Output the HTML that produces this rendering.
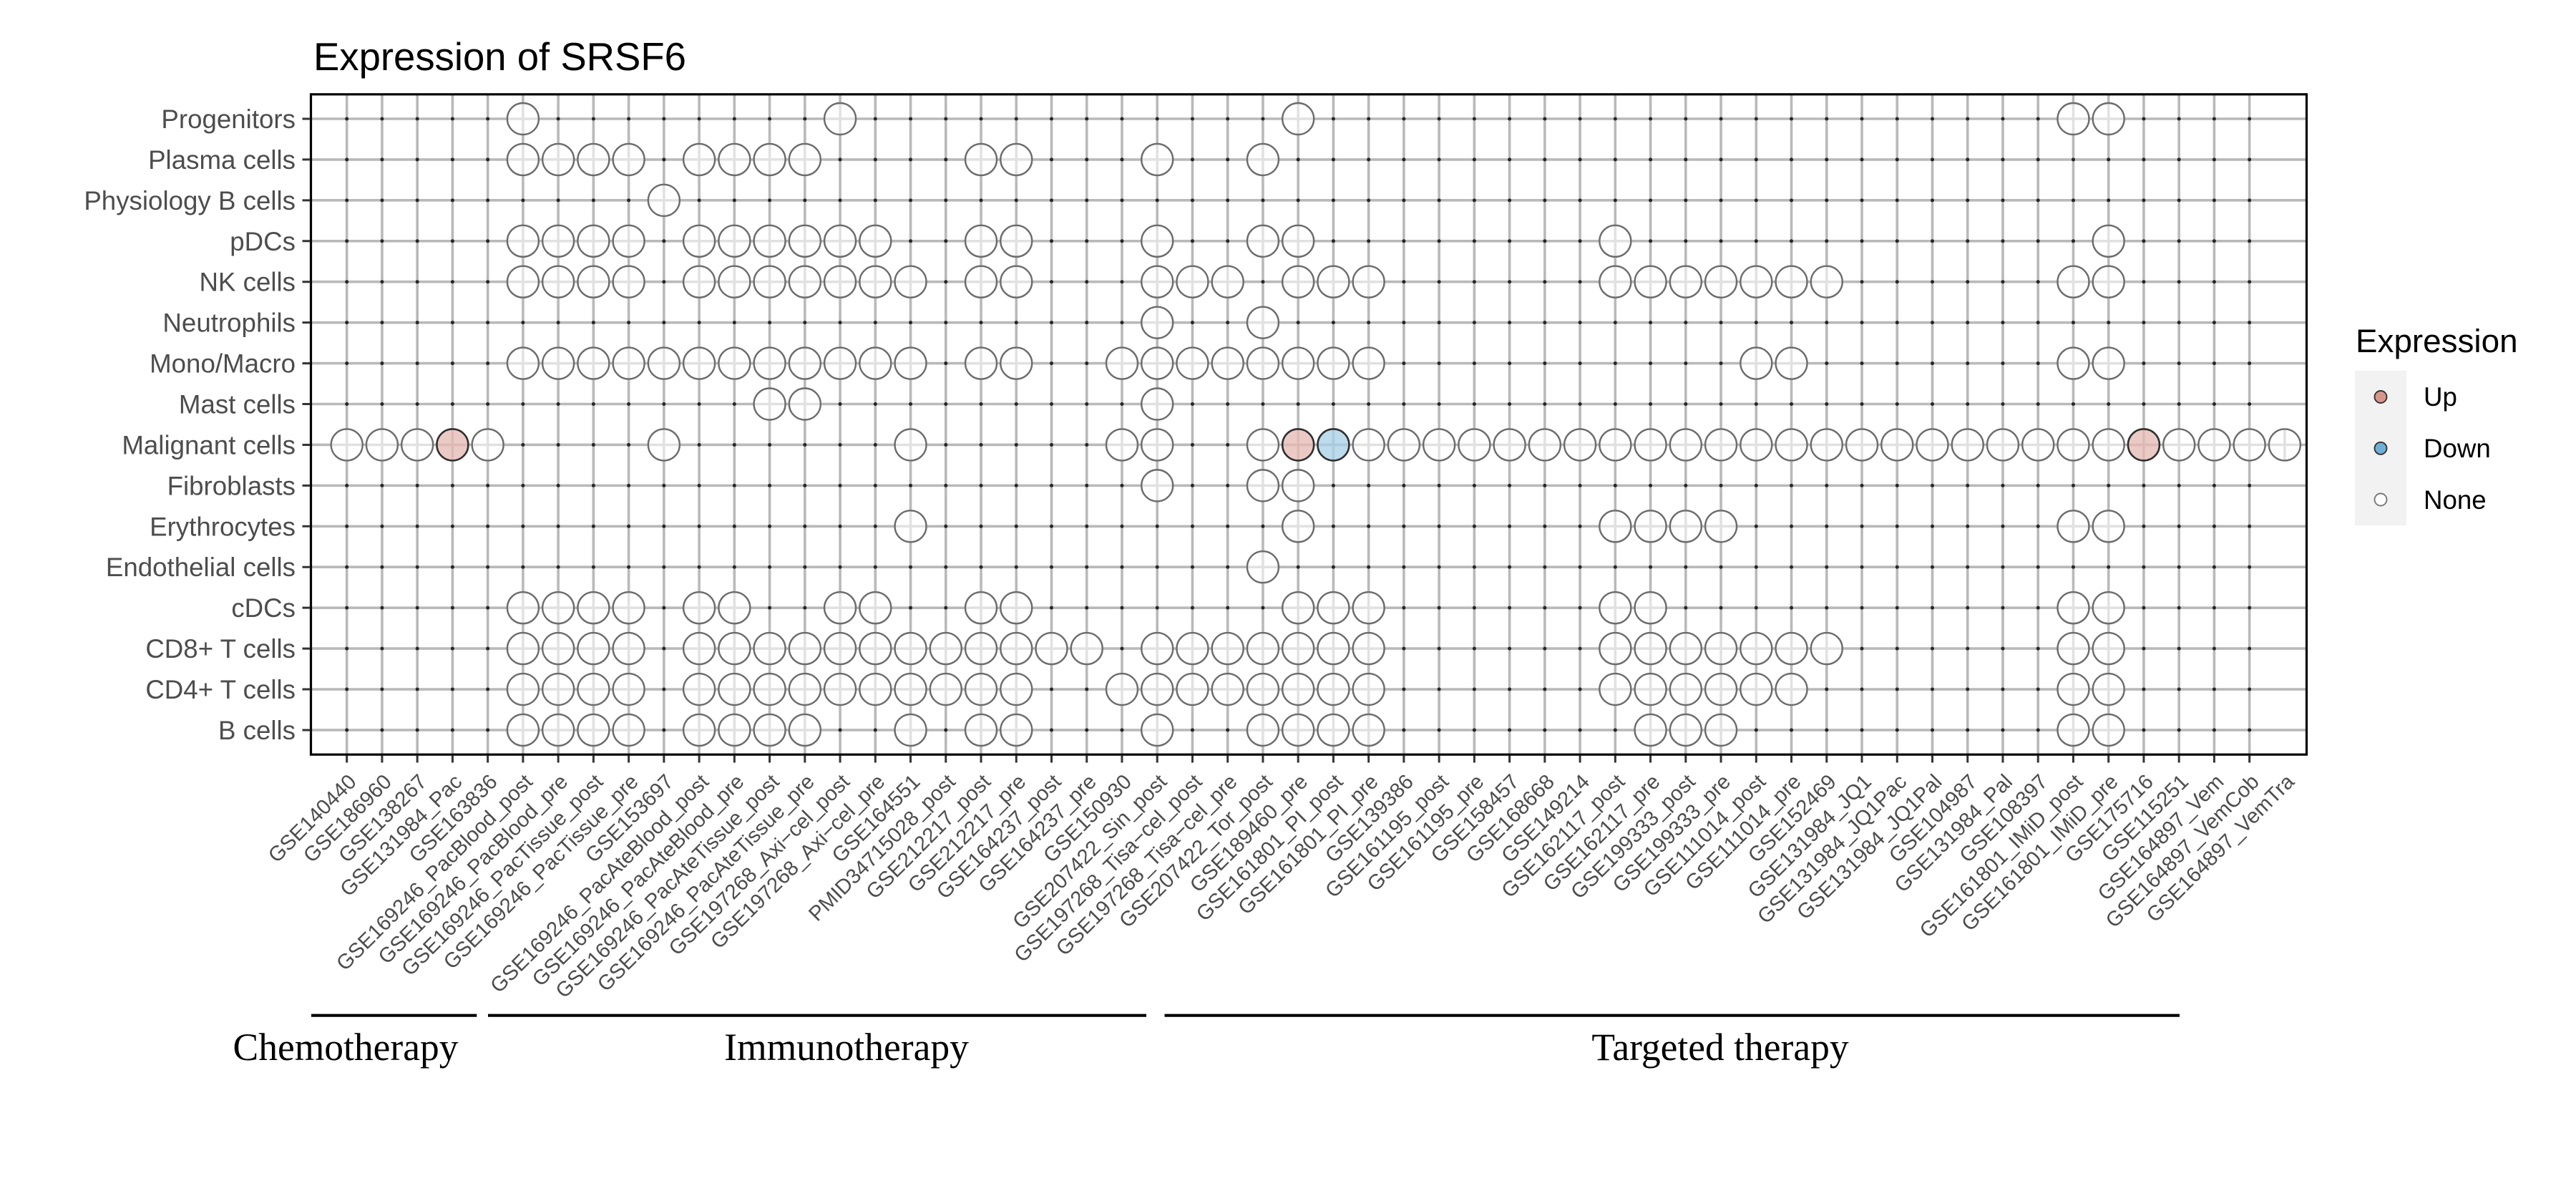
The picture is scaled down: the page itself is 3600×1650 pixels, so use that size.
<!DOCTYPE html>
<html>
<head>
<meta charset="utf-8">
<style>
html,body{margin:0;padding:0;background:#fff;}
svg{display:block;}
.sans{font-family:"Liberation Sans",Arial,sans-serif;}
.serif{font-family:"Liberation Serif","Times New Roman",serif;}
</style>
</head>
<body>
<svg width="3600" height="1650" viewBox="0 0 3600 1650" xmlns="http://www.w3.org/2000/svg">
<defs>
  <g id="n">
    <circle r="22" fill="#ffffff"/>
    <path d="M-22,0H22M0,-22V22" stroke="#e1e1e1" stroke-width="3.5"/>
    <circle r="22" fill="none" stroke="#6c6c6c" stroke-width="2.4"/>
  </g>
  <g id="u">
    <circle r="22" fill="#ebcac6"/>
    <path d="M-22,0H22M0,-22V22" stroke="#dcb9b5" stroke-width="3.5"/>
    <circle r="22" fill="none" stroke="#2f2f2f" stroke-width="2.6"/>
  </g>
  <g id="d">
    <circle r="22" fill="#bcdbec"/>
    <path d="M-22,0H22M0,-22V22" stroke="#abcadb" stroke-width="3.5"/>
    <circle r="22" fill="none" stroke="#2f2f2f" stroke-width="2.6"/>
  </g>
</defs>

<rect x="0" y="0" width="3600" height="1650" fill="#ffffff"/>

<!-- Title -->
<text class="sans" x="438" y="98" font-size="54.5" fill="#000">Expression of SRSF6</text>

<!-- Grid: vertical -->
<path fill="none" stroke="#b9b9b9" stroke-width="3.6" d="M484.7,132v922m49.24,-922v922m49.24,-922v922m49.24,-922v922m49.24,-922v922m49.24,-922v922m49.24,-922v922m49.24,-922v922m49.24,-922v922m49.24,-922v922m49.24,-922v922m49.24,-922v922m49.24,-922v922m49.24,-922v922m49.24,-922v922m49.24,-922v922m49.24,-922v922m49.24,-922v922m49.24,-922v922m49.24,-922v922m49.24,-922v922m49.24,-922v922m49.24,-922v922m49.24,-922v922m49.24,-922v922m49.24,-922v922m49.24,-922v922m49.24,-922v922m49.24,-922v922m49.24,-922v922m49.24,-922v922m49.24,-922v922m49.24,-922v922m49.24,-922v922m49.24,-922v922m49.24,-922v922m49.24,-922v922m49.24,-922v922m49.24,-922v922m49.24,-922v922m49.24,-922v922m49.24,-922v922m49.24,-922v922m49.24,-922v922m49.24,-922v922m49.24,-922v922m49.24,-922v922m49.24,-922v922m49.24,-922v922m49.24,-922v922m49.24,-922v922m49.24,-922v922m49.24,-922v922m49.24,-922v922m49.24,-922v922"/>
<!-- Grid: horizontal -->
<path fill="none" stroke="#b9b9b9" stroke-width="3.6" d="M435,166h2788m-2788,56.93h2788m-2788,56.93h2788m-2788,56.93h2788m-2788,56.93h2788m-2788,56.93h2788m-2788,56.93h2788m-2788,56.93h2788m-2788,56.93h2788m-2788,56.93h2788m-2788,56.93h2788m-2788,56.93h2788m-2788,56.93h2788m-2788,56.93h2788m-2788,56.93h2788m-2788,56.93h2788"/>
<!-- Dots -->
<path fill="none" stroke="#262626" stroke-width="5" stroke-linecap="round" stroke-dasharray="0.01 56.92" d="M484.7,166v854m49.24,-854v854m49.24,-854v854m49.24,-854v854m49.24,-854v854m49.24,-854v854m49.24,-854v854m49.24,-854v854m49.24,-854v854m49.24,-854v854m49.24,-854v854m49.24,-854v854m49.24,-854v854m49.24,-854v854m49.24,-854v854m49.24,-854v854m49.24,-854v854m49.24,-854v854m49.24,-854v854m49.24,-854v854m49.24,-854v854m49.24,-854v854m49.24,-854v854m49.24,-854v854m49.24,-854v854m49.24,-854v854m49.24,-854v854m49.24,-854v854m49.24,-854v854m49.24,-854v854m49.24,-854v854m49.24,-854v854m49.24,-854v854m49.24,-854v854m49.24,-854v854m49.24,-854v854m49.24,-854v854m49.24,-854v854m49.24,-854v854m49.24,-854v854m49.24,-854v854m49.24,-854v854m49.24,-854v854m49.24,-854v854m49.24,-854v854m49.24,-854v854m49.24,-854v854m49.24,-854v854m49.24,-854v854m49.24,-854v854m49.24,-854v854m49.24,-854v854m49.24,-854v854m49.24,-854v854m49.24,-854v854"/>

<!-- Circles -->
<g transform="translate(484.7,166)">
<use href="#n" x="246.2"/><use href="#n" x="689.36"/><use href="#n" x="1329.48"/><use href="#n" x="2412.76"/><use href="#n" x="2462"/>
</g>
<g transform="translate(484.7,222.93)">
<use href="#n" x="246.2"/><use href="#n" x="295.44"/><use href="#n" x="344.68"/><use href="#n" x="393.92"/>
<use href="#n" x="492.4"/><use href="#n" x="541.64"/><use href="#n" x="590.88"/><use href="#n" x="640.12"/>
<use href="#n" x="886.32"/><use href="#n" x="935.56"/><use href="#n" x="1132.52"/><use href="#n" x="1280.24"/>
</g>
<g transform="translate(484.7,279.86)">
<use href="#n" x="443.16"/>
</g>
<g transform="translate(484.7,336.79)">
<use href="#n" x="246.2"/><use href="#n" x="295.44"/><use href="#n" x="344.68"/><use href="#n" x="393.92"/>
<use href="#n" x="492.4"/><use href="#n" x="541.64"/><use href="#n" x="590.88"/><use href="#n" x="640.12"/><use href="#n" x="689.36"/><use href="#n" x="738.6"/>
<use href="#n" x="886.32"/><use href="#n" x="935.56"/><use href="#n" x="1132.52"/><use href="#n" x="1280.24"/><use href="#n" x="1329.48"/>
<use href="#n" x="1772.64"/><use href="#n" x="2462"/>
</g>
<g transform="translate(484.7,393.72)">
<use href="#n" x="246.2"/><use href="#n" x="295.44"/><use href="#n" x="344.68"/><use href="#n" x="393.92"/>
<use href="#n" x="492.4"/><use href="#n" x="541.64"/><use href="#n" x="590.88"/><use href="#n" x="640.12"/><use href="#n" x="689.36"/><use href="#n" x="738.6"/><use href="#n" x="787.84"/>
<use href="#n" x="886.32"/><use href="#n" x="935.56"/>
<use href="#n" x="1132.52"/><use href="#n" x="1181.76"/><use href="#n" x="1231"/>
<use href="#n" x="1329.48"/><use href="#n" x="1378.72"/><use href="#n" x="1427.96"/>
<use href="#n" x="1772.64"/><use href="#n" x="1821.88"/><use href="#n" x="1871.12"/><use href="#n" x="1920.36"/><use href="#n" x="1969.6"/><use href="#n" x="2018.84"/><use href="#n" x="2068.08"/>
<use href="#n" x="2412.76"/><use href="#n" x="2462"/>
</g>
<g transform="translate(484.7,450.65)">
<use href="#n" x="1132.52"/><use href="#n" x="1280.24"/>
</g>
<g transform="translate(484.7,507.58)">
<use href="#n" x="246.2"/><use href="#n" x="295.44"/><use href="#n" x="344.68"/><use href="#n" x="393.92"/><use href="#n" x="443.16"/><use href="#n" x="492.4"/><use href="#n" x="541.64"/><use href="#n" x="590.88"/><use href="#n" x="640.12"/><use href="#n" x="689.36"/><use href="#n" x="738.6"/><use href="#n" x="787.84"/>
<use href="#n" x="886.32"/><use href="#n" x="935.56"/>
<use href="#n" x="1083.28"/><use href="#n" x="1132.52"/><use href="#n" x="1181.76"/><use href="#n" x="1231"/><use href="#n" x="1280.24"/><use href="#n" x="1329.48"/><use href="#n" x="1378.72"/><use href="#n" x="1427.96"/>
<use href="#n" x="1969.6"/><use href="#n" x="2018.84"/>
<use href="#n" x="2412.76"/><use href="#n" x="2462"/>
</g>
<g transform="translate(484.7,564.51)">
<use href="#n" x="590.88"/><use href="#n" x="640.12"/><use href="#n" x="1132.52"/>
</g>
<g transform="translate(484.7,621.44)">
<use href="#n" x="0"/><use href="#n" x="49.24"/><use href="#n" x="98.48"/><use href="#u" x="147.72"/><use href="#n" x="196.96"/>
<use href="#n" x="443.16"/><use href="#n" x="787.84"/>
<use href="#n" x="1083.28"/><use href="#n" x="1132.52"/><use href="#n" x="1280.24"/><use href="#u" x="1329.48"/><use href="#d" x="1378.72"/>
<use href="#n" x="1427.96"/><use href="#n" x="1477.2"/><use href="#n" x="1526.44"/><use href="#n" x="1575.68"/><use href="#n" x="1624.92"/><use href="#n" x="1674.16"/><use href="#n" x="1723.4"/><use href="#n" x="1772.64"/><use href="#n" x="1821.88"/><use href="#n" x="1871.12"/><use href="#n" x="1920.36"/><use href="#n" x="1969.6"/><use href="#n" x="2018.84"/><use href="#n" x="2068.08"/><use href="#n" x="2117.32"/><use href="#n" x="2166.56"/><use href="#n" x="2215.8"/><use href="#n" x="2265.04"/><use href="#n" x="2314.28"/><use href="#n" x="2363.52"/><use href="#n" x="2412.76"/><use href="#n" x="2462"/>
<use href="#u" x="2511.24"/>
<use href="#n" x="2560.48"/><use href="#n" x="2609.72"/><use href="#n" x="2658.96"/><use href="#n" x="2708.2"/>
</g>
<g transform="translate(484.7,678.37)">
<use href="#n" x="1132.52"/><use href="#n" x="1280.24"/><use href="#n" x="1329.48"/>
</g>
<g transform="translate(484.7,735.3)">
<use href="#n" x="787.84"/><use href="#n" x="1329.48"/>
<use href="#n" x="1772.64"/><use href="#n" x="1821.88"/><use href="#n" x="1871.12"/><use href="#n" x="1920.36"/>
<use href="#n" x="2412.76"/><use href="#n" x="2462"/>
</g>
<g transform="translate(484.7,792.23)">
<use href="#n" x="1280.24"/>
</g>
<g transform="translate(484.7,849.16)">
<use href="#n" x="246.2"/><use href="#n" x="295.44"/><use href="#n" x="344.68"/><use href="#n" x="393.92"/>
<use href="#n" x="492.4"/><use href="#n" x="541.64"/><use href="#n" x="689.36"/><use href="#n" x="738.6"/>
<use href="#n" x="886.32"/><use href="#n" x="935.56"/>
<use href="#n" x="1329.48"/><use href="#n" x="1378.72"/><use href="#n" x="1427.96"/>
<use href="#n" x="1772.64"/><use href="#n" x="1821.88"/>
<use href="#n" x="2412.76"/><use href="#n" x="2462"/>
</g>
<g transform="translate(484.7,906.09)">
<use href="#n" x="246.2"/><use href="#n" x="295.44"/><use href="#n" x="344.68"/><use href="#n" x="393.92"/>
<use href="#n" x="492.4"/><use href="#n" x="541.64"/><use href="#n" x="590.88"/><use href="#n" x="640.12"/><use href="#n" x="689.36"/><use href="#n" x="738.6"/><use href="#n" x="787.84"/><use href="#n" x="837.08"/><use href="#n" x="886.32"/><use href="#n" x="935.56"/><use href="#n" x="984.8"/><use href="#n" x="1034.04"/>
<use href="#n" x="1132.52"/><use href="#n" x="1181.76"/><use href="#n" x="1231"/><use href="#n" x="1280.24"/><use href="#n" x="1329.48"/><use href="#n" x="1378.72"/><use href="#n" x="1427.96"/>
<use href="#n" x="1772.64"/><use href="#n" x="1821.88"/><use href="#n" x="1871.12"/><use href="#n" x="1920.36"/><use href="#n" x="1969.6"/><use href="#n" x="2018.84"/><use href="#n" x="2068.08"/>
<use href="#n" x="2412.76"/><use href="#n" x="2462"/>
</g>
<g transform="translate(484.7,963.02)">
<use href="#n" x="246.2"/><use href="#n" x="295.44"/><use href="#n" x="344.68"/><use href="#n" x="393.92"/>
<use href="#n" x="492.4"/><use href="#n" x="541.64"/><use href="#n" x="590.88"/><use href="#n" x="640.12"/><use href="#n" x="689.36"/><use href="#n" x="738.6"/><use href="#n" x="787.84"/><use href="#n" x="837.08"/><use href="#n" x="886.32"/><use href="#n" x="935.56"/>
<use href="#n" x="1083.28"/><use href="#n" x="1132.52"/><use href="#n" x="1181.76"/><use href="#n" x="1231"/><use href="#n" x="1280.24"/><use href="#n" x="1329.48"/><use href="#n" x="1378.72"/><use href="#n" x="1427.96"/>
<use href="#n" x="1772.64"/><use href="#n" x="1821.88"/><use href="#n" x="1871.12"/><use href="#n" x="1920.36"/><use href="#n" x="1969.6"/><use href="#n" x="2018.84"/>
<use href="#n" x="2412.76"/><use href="#n" x="2462"/>
</g>
<g transform="translate(484.7,1019.95)">
<use href="#n" x="246.2"/><use href="#n" x="295.44"/><use href="#n" x="344.68"/><use href="#n" x="393.92"/>
<use href="#n" x="492.4"/><use href="#n" x="541.64"/><use href="#n" x="590.88"/><use href="#n" x="640.12"/>
<use href="#n" x="787.84"/><use href="#n" x="886.32"/><use href="#n" x="935.56"/>
<use href="#n" x="1132.52"/><use href="#n" x="1280.24"/><use href="#n" x="1329.48"/><use href="#n" x="1378.72"/><use href="#n" x="1427.96"/>
<use href="#n" x="1821.88"/><use href="#n" x="1871.12"/><use href="#n" x="1920.36"/>
<use href="#n" x="2412.76"/><use href="#n" x="2462"/>
</g>

<!-- Panel border -->
<rect x="434.5" y="131.8" width="2789" height="922.4" fill="none" stroke="#000" stroke-width="3.2"/>

<!-- Ticks -->
<path fill="none" stroke="#333" stroke-width="3" d="M484.7,1055.5v10m49.24,-10v10m49.24,-10v10m49.24,-10v10m49.24,-10v10m49.24,-10v10m49.24,-10v10m49.24,-10v10m49.24,-10v10m49.24,-10v10m49.24,-10v10m49.24,-10v10m49.24,-10v10m49.24,-10v10m49.24,-10v10m49.24,-10v10m49.24,-10v10m49.24,-10v10m49.24,-10v10m49.24,-10v10m49.24,-10v10m49.24,-10v10m49.24,-10v10m49.24,-10v10m49.24,-10v10m49.24,-10v10m49.24,-10v10m49.24,-10v10m49.24,-10v10m49.24,-10v10m49.24,-10v10m49.24,-10v10m49.24,-10v10m49.24,-10v10m49.24,-10v10m49.24,-10v10m49.24,-10v10m49.24,-10v10m49.24,-10v10m49.24,-10v10m49.24,-10v10m49.24,-10v10m49.24,-10v10m49.24,-10v10m49.24,-10v10m49.24,-10v10m49.24,-10v10m49.24,-10v10m49.24,-10v10m49.24,-10v10m49.24,-10v10m49.24,-10v10m49.24,-10v10m49.24,-10v10m49.24,-10v10"/>
<path fill="none" stroke="#333" stroke-width="3" d="M422.5,166h11m-11,56.93h11m-11,56.93h11m-11,56.93h11m-11,56.93h11m-11,56.93h11m-11,56.93h11m-11,56.93h11m-11,56.93h11m-11,56.93h11m-11,56.93h11m-11,56.93h11m-11,56.93h11m-11,56.93h11m-11,56.93h11m-11,56.93h11"/>

<!-- Y labels -->
<g class="sans" font-size="36.7" fill="#4d4d4d" text-anchor="end">
<text x="413" y="179">Progenitors</text>
<text x="413" y="235.93">Plasma cells</text>
<text x="413" y="292.86">Physiology B cells</text>
<text x="413" y="349.79">pDCs</text>
<text x="413" y="406.72">NK cells</text>
<text x="413" y="463.65">Neutrophils</text>
<text x="413" y="520.58">Mono/Macro</text>
<text x="413" y="577.51">Mast cells</text>
<text x="413" y="634.44">Malignant cells</text>
<text x="413" y="691.37">Fibroblasts</text>
<text x="413" y="748.3">Erythrocytes</text>
<text x="413" y="805.23">Endothelial cells</text>
<text x="413" y="862.16">cDCs</text>
<text x="413" y="919.09">CD8+ T cells</text>
<text x="413" y="976.02">CD4+ T cells</text>
<text x="413" y="1032.95">B cells</text>
</g>

<!-- X labels -->
<g class="sans" font-size="29.3" fill="#4d4d4d" text-anchor="end" transform="translate(499.7,1094)">
<text transform="translate(0,0) rotate(-45)">GSE140440</text>
<text transform="translate(49.24,0) rotate(-45)">GSE186960</text>
<text transform="translate(98.48,0) rotate(-45)">GSE138267</text>
<text transform="translate(147.72,0) rotate(-45)">GSE131984_Pac</text>
<text transform="translate(196.96,0) rotate(-45)">GSE163836</text>
<text transform="translate(246.2,0) rotate(-45)">GSE169246_PacBlood_post</text>
<text transform="translate(295.44,0) rotate(-45)">GSE169246_PacBlood_pre</text>
<text transform="translate(344.68,0) rotate(-45)">GSE169246_PacTissue_post</text>
<text transform="translate(393.92,0) rotate(-45)">GSE169246_PacTissue_pre</text>
<text transform="translate(443.16,0) rotate(-45)">GSE153697</text>
<text transform="translate(492.4,0) rotate(-45)">GSE169246_PacAteBlood_post</text>
<text transform="translate(541.64,0) rotate(-45)">GSE169246_PacAteBlood_pre</text>
<text transform="translate(590.88,0) rotate(-45)">GSE169246_PacAteTissue_post</text>
<text transform="translate(640.12,0) rotate(-45)">GSE169246_PacAteTissue_pre</text>
<text transform="translate(689.36,0) rotate(-45)">GSE197268_Axi−cel_post</text>
<text transform="translate(738.6,0) rotate(-45)">GSE197268_Axi−cel_pre</text>
<text transform="translate(787.84,0) rotate(-45)">GSE164551</text>
<text transform="translate(837.08,0) rotate(-45)">PMID34715028_post</text>
<text transform="translate(886.32,0) rotate(-45)">GSE212217_post</text>
<text transform="translate(935.56,0) rotate(-45)">GSE212217_pre</text>
<text transform="translate(984.8,0) rotate(-45)">GSE164237_post</text>
<text transform="translate(1034.04,0) rotate(-45)">GSE164237_pre</text>
<text transform="translate(1083.28,0) rotate(-45)">GSE150930</text>
<text transform="translate(1132.52,0) rotate(-45)">GSE207422_Sin_post</text>
<text transform="translate(1181.76,0) rotate(-45)">GSE197268_Tisa−cel_post</text>
<text transform="translate(1231,0) rotate(-45)">GSE197268_Tisa−cel_pre</text>
<text transform="translate(1280.24,0) rotate(-45)">GSE207422_Tor_post</text>
<text transform="translate(1329.48,0) rotate(-45)">GSE189460_pre</text>
<text transform="translate(1378.72,0) rotate(-45)">GSE161801_PI_post</text>
<text transform="translate(1427.96,0) rotate(-45)">GSE161801_PI_pre</text>
<text transform="translate(1477.2,0) rotate(-45)">GSE139386</text>
<text transform="translate(1526.44,0) rotate(-45)">GSE161195_post</text>
<text transform="translate(1575.68,0) rotate(-45)">GSE161195_pre</text>
<text transform="translate(1624.92,0) rotate(-45)">GSE158457</text>
<text transform="translate(1674.16,0) rotate(-45)">GSE168668</text>
<text transform="translate(1723.4,0) rotate(-45)">GSE149214</text>
<text transform="translate(1772.64,0) rotate(-45)">GSE162117_post</text>
<text transform="translate(1821.88,0) rotate(-45)">GSE162117_pre</text>
<text transform="translate(1871.12,0) rotate(-45)">GSE199333_post</text>
<text transform="translate(1920.36,0) rotate(-45)">GSE199333_pre</text>
<text transform="translate(1969.6,0) rotate(-45)">GSE111014_post</text>
<text transform="translate(2018.84,0) rotate(-45)">GSE111014_pre</text>
<text transform="translate(2068.08,0) rotate(-45)">GSE152469</text>
<text transform="translate(2117.32,0) rotate(-45)">GSE131984_JQ1</text>
<text transform="translate(2166.56,0) rotate(-45)">GSE131984_JQ1Pac</text>
<text transform="translate(2215.8,0) rotate(-45)">GSE131984_JQ1Pal</text>
<text transform="translate(2265.04,0) rotate(-45)">GSE104987</text>
<text transform="translate(2314.28,0) rotate(-45)">GSE131984_Pal</text>
<text transform="translate(2363.52,0) rotate(-45)">GSE108397</text>
<text transform="translate(2412.76,0) rotate(-45)">GSE161801_IMiD_post</text>
<text transform="translate(2462,0) rotate(-45)">GSE161801_IMiD_pre</text>
<text transform="translate(2511.24,0) rotate(-45)">GSE175716</text>
<text transform="translate(2560.48,0) rotate(-45)">GSE115251</text>
<text transform="translate(2609.72,0) rotate(-45)">GSE164897_Vem</text>
<text transform="translate(2658.96,0) rotate(-45)">GSE164897_VemCob</text>
<text transform="translate(2708.2,0) rotate(-45)">GSE164897_VemTra</text>
</g>

<!-- Group annotation -->
<g stroke="#000" stroke-width="4.2">
<line x1="435" y1="1418.7" x2="666.3" y2="1418.7"/>
<line x1="682" y1="1418.7" x2="1602" y2="1418.7"/>
<line x1="1627.5" y1="1418.7" x2="3046" y2="1418.7"/>
</g>
<g class="serif" font-size="53.5" fill="#000" text-anchor="middle">
<text x="483" y="1481">Chemotherapy</text>
<text x="1183" y="1481">Immunotherapy</text>
<text x="2404" y="1481">Targeted therapy</text>
</g>

<!-- Legend -->
<text class="sans" x="3292" y="492" font-size="45.8" fill="#000">Expression</text>
<rect x="3291" y="518" width="72" height="216" fill="#f2f2f2"/>
<circle cx="3327" cy="554.5" r="8.5" fill="#d8968a" stroke="#333" stroke-width="1.9"/>
<circle cx="3327" cy="626.3" r="8.5" fill="#70b0d8" stroke="#333" stroke-width="1.9"/>
<circle cx="3327" cy="698" r="8.5" fill="#ffffff" stroke="#777" stroke-width="1.9"/>
<g class="sans" font-size="36.7" fill="#000">
<text x="3387" y="567">Up</text>
<text x="3387" y="639">Down</text>
<text x="3387" y="711">None</text>
</g>
</svg>
</body>
</html>
